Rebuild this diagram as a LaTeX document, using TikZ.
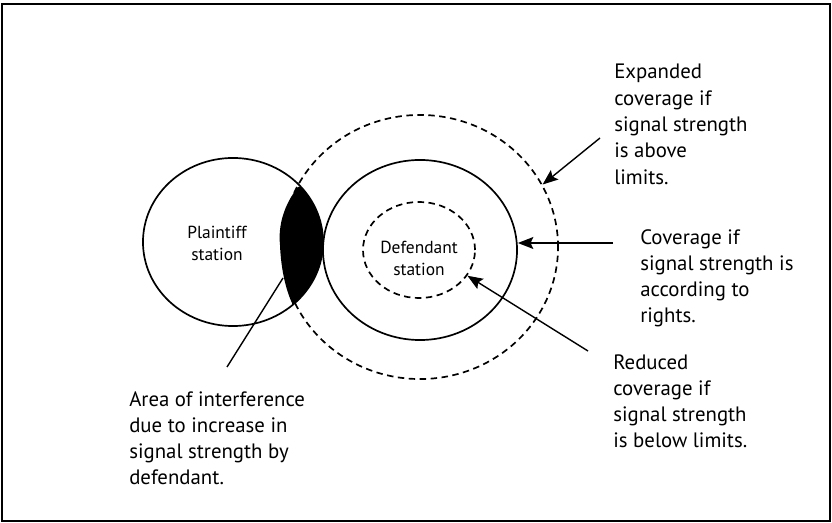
\documentclass[tikz,border=0pt]{standalone}
\usepackage{fontspec}
\setmainfont{PT Sans}
\usetikzlibrary{shapes.geometric, arrows.meta, positioning}

\begin{document}
\begin{tikzpicture}[
        x=0.025cm, y=-0.025cm,
        station/.style={
            ellipse, draw, line width=1.2pt, inner sep=0pt
        },
        reach/.style={station, dash pattern=on 4.6pt off 3.2pt},
        note/.style={
            anchor=north west, align=left, inner sep=0pt,
            font=\fontsize{14.8}{18.7}\selectfont
        },
        stname/.style={
            anchor=north, align=center, inner sep=0pt,
            font=\fontsize{12.4}{15.6}\selectfont
        },
        arrow/.style={-{Stealth[length=11pt, width=8.5pt, inset=2pt]}, line width=1pt}
    ]
        \useasboundingbox (0,0) rectangle (832,523);
        \draw[line width=1.3pt] (2,4) rectangle (830,521);

        % Coverage circles
        \node (plt) [station, minimum width=4.5cm, minimum height=4.2cm] at (233,242) {};
        \node (outer) [reach, minimum width=6.9cm, minimum height=6.6cm] at (420,247) {};
        \node (def) [station, minimum width=4.85cm, minimum height=4.5cm] at (420,250) {};
        \node (inner) [reach, minimum width=2.8cm, minimum height=2.4cm] at (419,250) {};

        % Interference area
        \begin{scope}
            \clip (233,242) ellipse [x radius=2.25cm, y radius=2.1cm];
            \fill (298,187) .. controls (284,205) and (278,225) .. (280,245)
                .. controls (281,270) and (286,290) .. (292,303)
                -- (292,330) -- (345,330) -- (345,187) -- cycle;
        \end{scope}

        % Station names
        \node (pname) [stname] at (217,226) {Plaintiff\\station};
        \node (dname) [stname] at (419,241) {Defendant\\station};

        % Notes
        \node (expd) [note] at (614,64) {Expanded\\coverage if\\signal strength\\is above\\limits.};
        \node (cov) [note] at (640,229) {Coverage if\\signal strength is\\according to\\rights.};
        \node (red) [note] at (613,354) {Reduced\\coverage if\\signal strength\\is below limits.};
        \node (area) [note] at (129,391) {Area of interference\\due to increase in\\signal strength by\\defendant.};

        % Connectors
        \coordinate (expdtail) at (600,138);
        \coordinate (covtail) at (613,243);
        \coordinate (redtail) at (588,351);
        \coordinate (areatail) at (227,367);
        \coordinate (lensfoot) at (283,278);
        \draw[arrow] (expdtail) -- (outer.27);
        \draw[arrow] (covtail) -- (covtail -| def.east);
        \draw[arrow] (redtail) -- (inner.-28);
        \draw[line width=1pt] (areatail) -- (lensfoot);

    \end{tikzpicture}
\end{document}
